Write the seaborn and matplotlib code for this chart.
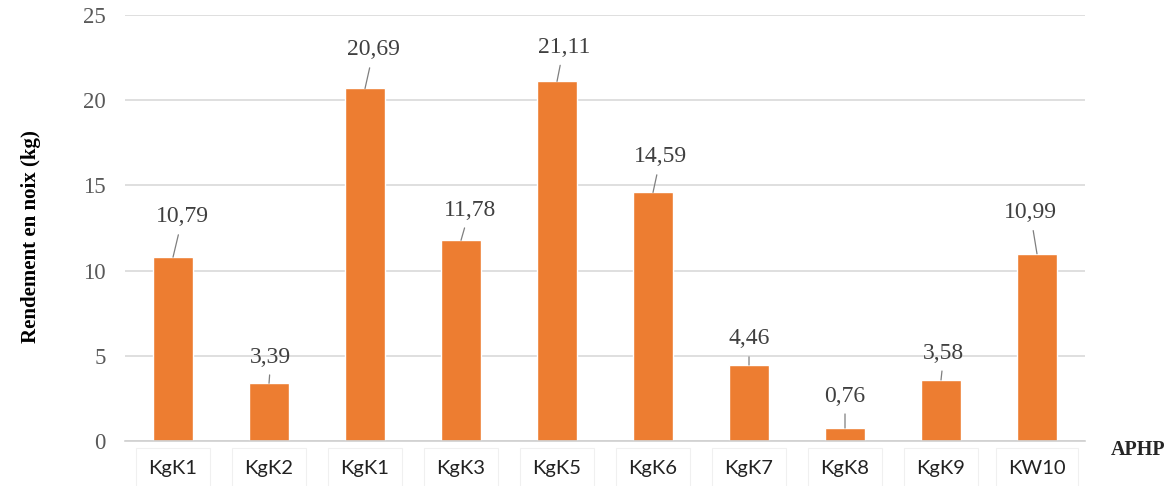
import matplotlib
matplotlib.use("Agg")
import matplotlib.pyplot as plt
import seaborn as sns
import pandas as pd

categories = ["KgK1", "KgK2", "KgK1 ", "KgK3", "KgK5", "KgK6", "KgK7", "KgK8", "KgK9", "KW10"]
tick_labels = ["KgK1", "KgK2", "KgK1", "KgK3", "KgK5", "KgK6", "KgK7", "KgK8", "KgK9", "KW10"]
values = [10.79, 3.39, 20.69, 11.78, 21.11, 14.59, 4.46, 0.76, 3.58, 10.99]
value_labels = ["10,79", "3,39", "20,69", "11,78", "21,11", "14,59", "4,46", "0,76", "3,58", "10,99"]
# label placement (offset along x in category units, label height in data units)
label_dx = [0.10, 0.02, 0.09, 0.09, 0.07, 0.08, 0.0, 0.0, 0.03, -0.07]
label_y = [13.15, 4.93, 22.95, 13.55, 23.1, 16.67, 5.99, 2.64, 5.16, 13.4]

sns.set_theme(style="white")
plt.rcParams["font.family"] = ["Liberation Serif", "DejaVu Serif"]

df = pd.DataFrame({"cat": categories, "val": values})

fig = plt.figure(figsize=(11.75, 4.86), dpi=100)
ax = fig.add_axes([0.1064, 0.0926, 0.817, 0.8764])

sns.barplot(data=df, x="cat", y="val", color="#ED7D31", saturation=1, width=0.42, ax=ax, zorder=3)

ax.set_ylim(0, 25)
ax.set_yticks([0, 5, 10, 15, 20, 25])
ax.yaxis.grid(True, color="#d9d9d9", linewidth=1.2, zorder=0)
ax.xaxis.grid(False)
for s in ["top", "right", "left"]:
    ax.spines[s].set_visible(False)
ax.spines["bottom"].set_color("#d0d0d0")
ax.spines["bottom"].set_linewidth(1.2)
ax.spines["bottom"].set_zorder(4)

ax.tick_params(axis="y", length=0, pad=14, labelsize=16.5, labelcolor="#595959")
ax.tick_params(axis="x", length=0, pad=14)
ax.set_xticks(range(len(tick_labels)))
ax.set_xticklabels(tick_labels, fontfamily="Lato", fontsize=14.5, color="#222222")
for t in ax.get_xticklabels():
    t.set_bbox(dict(boxstyle="square,pad=0.6", fc="white", ec="#f0f0f0", lw=0.8))

ax.set_xlabel("")
ax.set_ylabel("Rendement en noix (kg)", fontsize=15, fontweight="bold", color="black")
ax.yaxis.set_label_coords(-0.088, 0.48)

for i, (v, lab) in enumerate(zip(values, value_labels)):
    ax.annotate(lab, xy=(i, v), xytext=(i + label_dx[i], label_y[i]),
                ha="center", va="center", fontsize=17, color="#404040",
                arrowprops=dict(arrowstyle="-", color="#7f7f7f", lw=0.9, shrinkA=3, shrinkB=0),
                zorder=5)

fig.text(0.9685, 0.0745, "APHP", fontsize=14.5, fontweight="bold", ha="center", va="center")

fig.savefig("out.png", dpi=100)
